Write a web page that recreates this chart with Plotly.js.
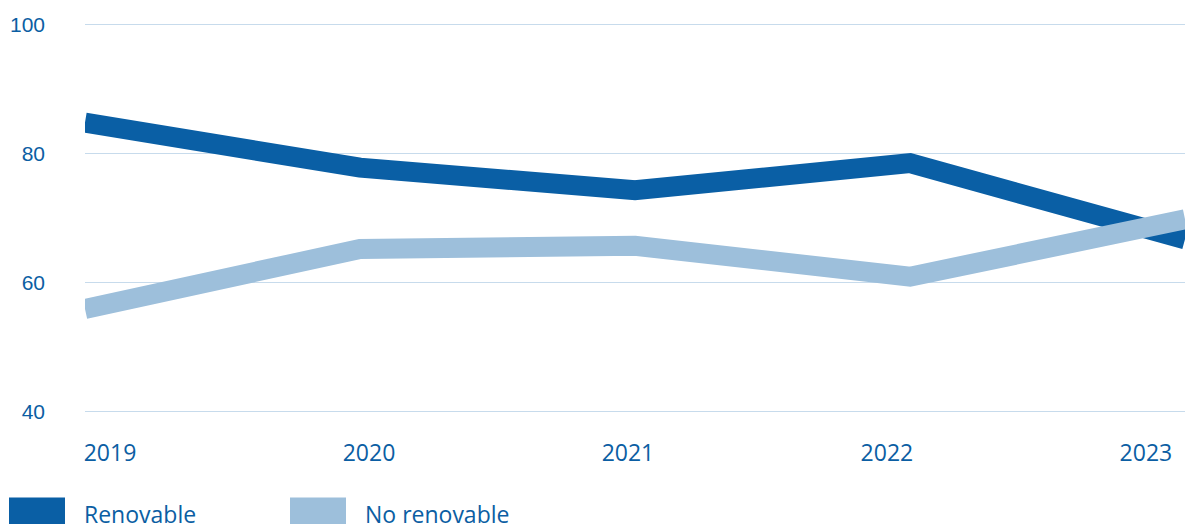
<!DOCTYPE html>
<html>
<head>
<meta charset="utf-8">
<script src="https://cdn.plot.ly/plotly-3.0.1.min.js"></script>
<style>
html,body{margin:0;padding:0;background:#fff;overflow:hidden}
#chart{width:1185px;height:524px}
.scatterlayer .js-line{stroke-linejoin:miter !important;stroke-linecap:butt !important;stroke-miterlimit:10 !important}
</style>
</head>
<body>
<div id="chart"></div>
<script>
const years = [2019, 2020, 2021, 2022, 2023];
const yearLabels = ['2019', '2020', '2021', '2022', '2023'];
const renovable = [84.8, 77.8, 74.3, 78.5, 66.7];
const noRenovable = [55.9, 65.2, 65.7, 60.9, 69.8];
const seriesNames = ['Renovable', 'No renovable'];
const yTicks = [40, 60, 80, 100];

const dark = '#0A5FA5';
const light = '#9DBFDB';
const textColor = '#0B5EA3';
const labelFont = {family: 'Open Sans, sans-serif', size: 23, color: textColor, weight: 500};

const traces = [
  {x: years, y: renovable, name: seriesNames[0], type: 'scatter', mode: 'lines',
   line: {color: dark, width: 20}, showlegend: false, hoverinfo: 'skip'},
  {x: years, y: noRenovable, name: seriesNames[1], type: 'scatter', mode: 'lines',
   line: {color: light, width: 20}, showlegend: false, hoverinfo: 'skip'},
  // invisible trace that carries the category axis used for the year labels
  {x: yearLabels, y: renovable, xaxis: 'x2', type: 'scatter', mode: 'markers',
   marker: {opacity: 0, size: 1}, showlegend: false, hoverinfo: 'skip'}
];

const layout = {
  width: 1185, height: 524,
  margin: {l: 85, r: 0, t: 17.5, b: 105.5},
  paper_bgcolor: '#fff', plot_bgcolor: '#fff',
  showlegend: false,
  xaxis: {range: [2019, 2023], showgrid: false, zeroline: false, showticklabels: false, showline: false, ticks: ''},
  xaxis2: {type: 'category', categoryarray: yearLabels, overlaying: 'x', anchor: 'y', side: 'bottom',
    range: [-0.0965, 4.151], tickvals: yearLabels, ticktext: yearLabels, showgrid: false, zeroline: false,
    showline: false, ticks: '', ticklabelstandoff: 19, tickfont: labelFont},
  yaxis: {range: [39, 101], tickvals: yTicks, showgrid: true, gridcolor: '#C7DBEC', gridwidth: 1.5,
    zeroline: false, showline: false, ticks: '', ticklabelstandoff: 39,
    tickfont: {family: 'Liberation Sans, Arial, sans-serif', size: 21, color: textColor}},
  shapes: [
    {type: 'rect', xref: 'paper', yref: 'paper', xsizemode: 'pixel', ysizemode: 'pixel', xanchor: 0, yanchor: 0,
     x0: -76, x1: -20, y0: -79.5, y1: -130, fillcolor: dark, line: {width: 0}},
    {type: 'rect', xref: 'paper', yref: 'paper', xsizemode: 'pixel', ysizemode: 'pixel', xanchor: 0, yanchor: 0,
     x0: 205, x1: 261, y0: -79.5, y1: -130, fillcolor: light, line: {width: 0}}
  ],
  annotations: [
    {xref: 'paper', yref: 'paper', x: 0, y: 0, xanchor: 'left', yanchor: 'top', xshift: -3, yshift: -78,
     text: seriesNames[0], showarrow: false, font: labelFont},
    {xref: 'paper', yref: 'paper', x: 0, y: 0, xanchor: 'left', yanchor: 'top', xshift: 278, yshift: -78,
     text: seriesNames[1], showarrow: false, font: labelFont}
  ]
};

Plotly.newPlot('chart', traces, layout, {displayModeBar: false, staticPlot: true}).then(function () {
  document.querySelectorAll('.scatterlayer path.js-line').forEach(function (p) {
    p.style.strokeLinejoin = 'miter';
    p.style.strokeLinecap = 'butt';
  });
});
</script>
</body>
</html>
